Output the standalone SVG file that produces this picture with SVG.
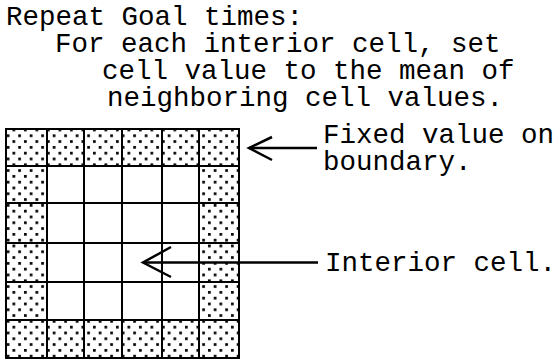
<svg xmlns="http://www.w3.org/2000/svg" width="555" height="360" viewBox="0 0 555 360">
<style>
  text { font-family: "Liberation Mono", "Courier New", monospace; font-size: 27.5px; fill: #000; }
  .grid { stroke: #000; stroke-width: 2; fill: none; }
  .dotted { fill: url(#dots); stroke: none; }
  .conn { stroke: #000; stroke-width: 2.5; fill: none; stroke-linecap: butt; stroke-linejoin: miter; }
</style>
<defs>
  <pattern id="dots" patternUnits="userSpaceOnUse" x="0" y="0" width="11.5" height="11.6">
    <rect width="11.5" height="11.6" fill="#fff"/>
    <rect x="1" y="1" width="2.7" height="2.7" fill="#000"/>
    <rect x="6.75" y="6.8" width="2.7" height="2.7" fill="#000"/>
  </pattern>
</defs>
<rect width="555" height="360" fill="#fff"/>

<g id="title">
  <text x="6" y="25">Repeat Goal times:</text>
  <text x="55" y="52">For each interior cell, set</text>
  <text x="102" y="79">cell value to the mean of</text>
  <text x="107" y="106">neighboring cell values.</text>
</g>

<g id="grid">
  <!-- boundary cells (dotted) -->
  <rect class="dotted" x="6" y="129" width="233" height="37"/>
  <rect class="dotted" x="6" y="320" width="233" height="38"/>
  <rect class="dotted" x="6" y="166" width="41" height="154"/>
  <rect class="dotted" x="199" y="166" width="40" height="154"/>
  <!-- grid lines -->
  <rect class="grid" x="6" y="129" width="233" height="229"/>
  <path class="grid" d="M47,129V358 M84,129V358 M122,129V358 M162,129V358 M199,129V358
                        M6,166H239 M6,203H239 M6,243H239 M6,282H239 M6,320H239"/>
</g>

<g id="label-boundary">
  <text x="323" y="143">Fixed value on</text>
  <text x="323" y="170">boundary.</text>
</g>

<g id="label-interior">
  <text x="325" y="271">Interior cell.</text>
</g>

<g id="connectors">
  <path class="conn" d="M317,148H249"/>
  <polyline class="conn" points="272,137 249,148 272,160"/>
  <path class="conn" d="M318,262.5H143"/>
  <polyline class="conn" points="171,247 143,262.5 171,277"/>
</g>
</svg>
